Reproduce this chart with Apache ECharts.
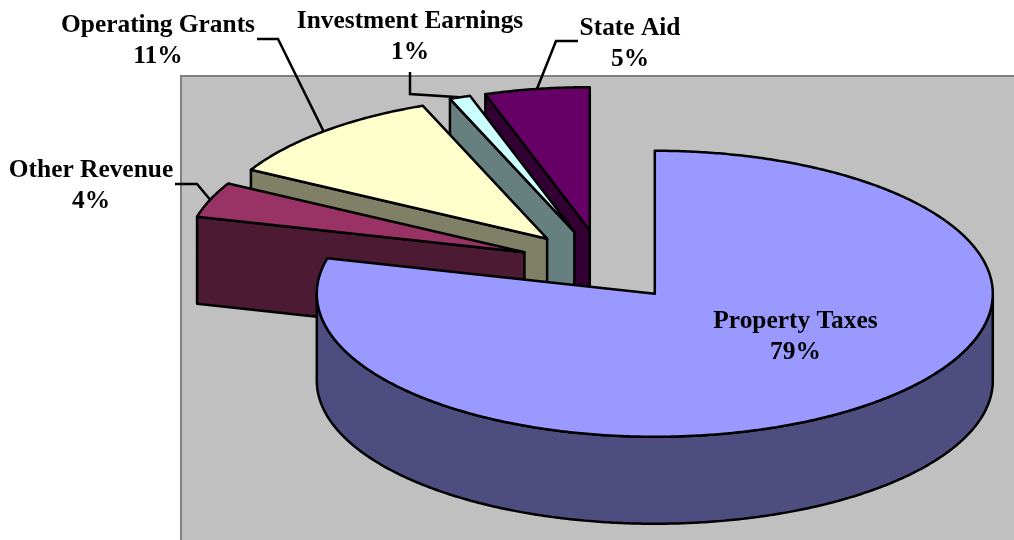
<!DOCTYPE html>
<html>
<head>
<meta charset="utf-8">
<style>
  html, body { margin: 0; padding: 0; background: #fff; }
  #chart { width: 1014px; height: 540px; }
</style>
<script src="https://cdn.jsdelivr.net/npm/echarts@6/dist/echarts.min.js"></script>
</head>
<body>
<div id="chart"></div>
<script>
// Revenue shares, clockwise from 12 o'clock
const categories = ['Property Taxes', 'Other Revenue', 'Operating Grants', 'Investment Earnings', 'State Aid'];
const shares = [79, 4, 11, 1, 5];

const topColors = ['#9999ff', '#993366', '#ffffcc', '#ccffff', '#660066'];
const sideColors = ['#4d4d80', '#4d1a33', '#808066', '#668080', '#330033'];

// fake 3d pie geometry
const CX = 603, CY = 265.5, RX = 338, RY = 143, DEPTH = 87, EXPLODE = 0.25;
const BLACK = '#000';
const LABEL_FONT = 'bold 25.4px "Liberation Serif", "Times New Roman", serif';

// where each label sits and the elbow of its leader line
const labelPos = [[795.5, 337], [91, 186], [158, 41], [410, 37], [630, 44]];
const leaderStart = [null, [[175, 184], [197, 184]], [[257, 39], [278, 39]], [[410, 72], [410, 94]], [[578, 41], [556, 41]]];

function ellipsePoint(cx, cy, deg) {
    const a = deg * Math.PI / 180;
    return [cx + RX * Math.sin(a), cy - RY * Math.cos(a)];
}

function arcPoints(cx, cy, from, to, dy) {
    const pts = [];
    const n = Math.max(2, Math.ceil(to - from) * 2);
    for (let i = 0; i <= n; i++) {
        const p = ellipsePoint(cx, cy, from + (to - from) * i / n);
        pts.push([p[0], p[1] + dy]);
    }
    return pts;
}

const total = shares.reduce(function (s, v) { return s + v; }, 0);

function renderSlice(params, api) {
    const i = params.dataIndex;
    let before = 0;
    for (let k = 0; k < i; k++) before += shares[k];
    const start = before / total * 360;
    const end = start + api.value(0) / total * 360;
    const mid = (start + end) / 2;

    // exploded slices slide out along their own mid angle
    const m = ellipsePoint(0, 0, mid);
    const ax = CX + m[0] * EXPLODE;
    const ay = CY + m[1] * EXPLODE;

    const lineStyle = { stroke: BLACK, lineWidth: 2.5, lineJoin: 'round' };
    const order = (categories.length - i) * 10; // back slices first, property taxes last
    const children = [];

    // cut face on the start side, faces the viewer for the slices on the left
    const s = ellipsePoint(ax, ay, start);
    children.push({
        type: 'polygon', z2: order,
        shape: { points: [[ax, ay], s, [s[0], s[1] + DEPTH], [ax, ay + DEPTH]] },
        style: Object.assign({ fill: sideColors[i] }, lineStyle),
        invisible: i === 0
    });

    // outer wall, front half of the ellipse only
    const wallFrom = Math.max(start, 90), wallTo = Math.min(end, 270);
    if (wallTo > wallFrom) {
        const bottom = arcPoints(ax, ay, wallFrom, wallTo, DEPTH);
        const top = arcPoints(ax, ay, wallFrom, wallTo, 0).reverse();
        children.push({
            type: 'polygon', z2: order + 1,
            shape: { points: bottom.concat(top) },
            style: Object.assign({ fill: sideColors[i] }, lineStyle)
        });
    }

    // top face
    children.push({
        type: 'polygon', z2: order + 2,
        shape: { points: [[ax, ay]].concat(arcPoints(ax, ay, start, end, 0)) },
        style: Object.assign({ fill: topColors[i] }, lineStyle)
    });

    // leader line to the middle of the arc
    if (leaderStart[i]) {
        children.push({
            type: 'polyline', z2: 1,
            shape: { points: leaderStart[i].concat([ellipsePoint(ax, ay, mid)]) },
            style: { stroke: BLACK, lineWidth: 2.5, fill: null }
        });
    }

    children.push({
        type: 'text', z2: 100,
        style: {
            text: categories[i] + '\n' + api.value(0) + '%',
            x: labelPos[i][0], y: labelPos[i][1],
            align: 'center', verticalAlign: 'middle',
            font: LABEL_FONT, lineHeight: 31.5, fill: BLACK
        }
    });

    return { type: 'group', children: children };
}

function initChart() {
    const myChart = echarts.init(document.getElementById('chart'), null, { renderer: 'canvas' });

    const option = {
        animation: false,
        backgroundColor: '#fff',
        graphic: [
            {
                // chart wall
                type: 'rect', z: -1,
                shape: { x: 181, y: 76, width: 900, height: 600 },
                style: { fill: '#c0c0c0', stroke: '#808080', lineWidth: 2 }
            }
        ],
        series: [
            {
                type: 'custom',
                coordinateSystem: 'none',
                data: shares,
                renderItem: renderSlice,
                silent: true
            }
        ]
    };

    myChart.setOption(option);
    return myChart;
}

initChart();
</script>
</body>
</html>
